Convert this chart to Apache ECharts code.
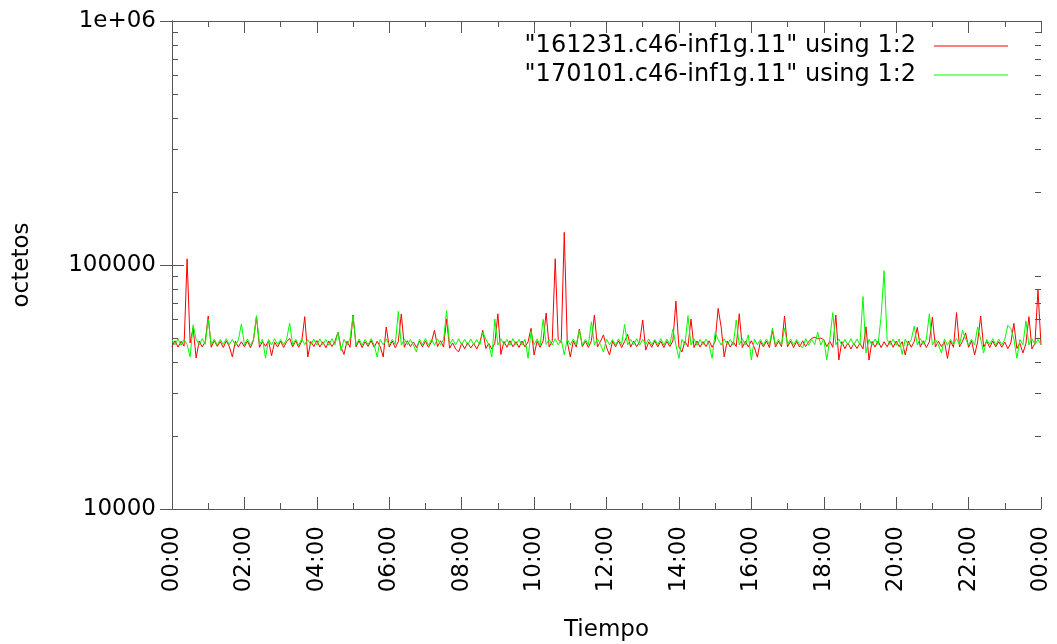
<!DOCTYPE html>
<html>
<head>
<meta charset="utf-8">
<script src="https://cdn.jsdelivr.net/npm/echarts@6/dist/echarts.min.js"></script>
<style>
  html, body { margin: 0; padding: 0; background: #ffffff; }
  #chart { width: 1057px; height: 644px; }
</style>
</head>
<body>
<div id="chart"></div>
<script>
// Sampling step of both traffic files, in minutes (288 samples per day + closing sample)
const STEP_MIN = 5;

const seriesNames = [
  '"161231.c46-inf1g.11" using 1:2',
  '"170101.c46-inf1g.11" using 1:2'
];
const seriesColors = ['#ff0000', '#00ff00'];

// X tick labels, one every two hours
const timeLabels = ['00:00', '02:00', '04:00', '06:00', '08:00', '10:00', '12:00',
                    '14:00', '16:00', '18:00', '20:00', '22:00', '00:00'];

// Log Y axis: decades and the 2..9 minor ticks between them
const yTickValues = [10000, 100000, 1000000];
const yTickLabels = ['10000', '100000', '1e+06'];
const yMinorTicks = [20000, 30000, 40000, 50000, 60000, 70000, 80000, 90000,
                     200000, 300000, 400000, 500000, 600000, 700000, 800000, 900000];

// 161231 — octets per sample, one row per hour
const octets161231 = [
  46300, 48900, 46100, 48700, 46500, 106000, 47900, 55300, 41600, 48800, 46200, 48400,
  61800, 46000, 49000, 46400, 48600, 45900, 48900, 46300, 42000, 48700, 46100, 48500,
  46200, 48800, 45800, 49100, 61400, 46000, 48600, 46400, 48900, 42500, 48300, 46100,
  48800, 45900, 48500, 50000, 46200, 48900, 46000, 48700, 61400, 42000, 48600, 46300,
  49000, 46100, 48400, 45800, 48800, 46300, 48600, 53000, 46100, 43000, 48700, 46000,
  62400, 46200, 48900, 45900, 48500, 46400, 49000, 46000, 48700, 46300, 42000, 55700,
  46100, 48800, 45800, 48600, 63000, 46000, 48900, 46300, 48400, 45900, 48800, 46200,
  48700, 46000, 48500, 54000, 46300, 48900, 46100, 60000, 45600, 47900, 45300, 44000,
  47800, 45400, 48000, 45700, 47600, 45300, 47900, 54000, 45500, 47700, 45200, 47800,
  63100, 43000, 48600, 46000, 48900, 46200, 48500, 45900, 48800, 46100, 48400, 55000,
  42800, 48700, 46000, 48900, 63500, 46200, 48600, 106000, 49500, 48000, 136000, 48500,
  42000, 48800, 46100, 54600, 46300, 48700, 45900, 48900, 62400, 46100, 48600, 51700,
  46000, 42800, 48700, 46200, 48900, 45900, 48500, 52000, 46100, 48800, 46300, 48600,
  59500, 44800, 48400, 46000, 48900, 46200, 48700, 45900, 48600, 46300, 48800, 71100,
  46100, 44000, 48700, 46200, 60000, 45900, 48800, 46100, 48500, 46300, 48900, 46000,
  48600, 66400, 55700, 42000, 48800, 46100, 48500, 46300, 63100, 45900, 48700, 46200,
  48900, 46000, 41900, 48600, 46200, 48800, 45900, 54000, 46100, 48700, 46300, 61800,
  46200, 48800, 45900, 48600, 46100, 48900, 46300, 48500, 50000, 50600, 49800, 50200,
  49400, 46300, 48700, 46000, 62400, 40800, 48500, 45400, 47900, 45300, 47700, 45500,
  47800, 45300, 55800, 40800, 48600, 46100, 48800, 45900, 48500, 46200, 48900, 46000,
  48700, 46300, 48500, 42800, 48800, 46000, 48600, 55500, 46200, 48900, 45900, 48400,
  61100, 46100, 48700, 46300, 48500, 41400, 48800, 46000, 63800, 46200, 48600, 52700,
  46000, 48900, 42800, 48400, 61800, 46100, 48700, 45900, 48800, 46200, 48500, 46000,
  48300, 45400, 47900, 57700, 45500, 47800, 43600, 47600, 61400, 45300, 47700, 79000,
  47000
];

// 170101 — octets per sample, one row per hour
const octets170101 = [
  49400, 47100, 49800, 46900, 49500, 47200, 42000, 56800, 49600, 47000, 49900, 47300,
  60000, 47000, 49700, 46900, 49500, 47200, 49900, 47100, 49600, 46800, 49400, 57300,
  47100, 49800, 46900, 49500, 62000, 47200, 49700, 41500, 49600, 47000, 49900, 47300,
  49500, 47100, 49800, 57800, 47000, 49600, 46900, 49900, 47200, 49400, 47100, 49700,
  47000, 49800, 47200, 49500, 46900, 49900, 47100, 53000, 44600, 49600, 47000, 49800,
  62000, 47100, 49700, 46900, 49500, 47200, 49900, 47000, 42000, 49600, 47100, 49800,
  47000, 49600, 47200, 64500, 46900, 49800, 47100, 49500, 47000, 44000, 49700, 47200,
  49900, 47000, 49600, 46900, 49800, 47100, 49500, 65000, 47200, 49700, 47000, 49900,
  47100, 49600, 46900, 49800, 47200, 49500, 47000, 53000, 49700, 47100, 42000, 60000,
  47000, 49800, 47200, 49600, 46900, 49900, 47100, 49500, 47000, 49700, 41500, 53500,
  47100, 49800, 46900, 59900, 47200, 49600, 47000, 49900, 47100, 49500, 42800, 49700,
  47000, 49800, 47200, 54000, 46900, 49600, 47100, 58500, 47000, 49900, 47200, 44000,
  49700, 47100, 49500, 46900, 49800, 47200, 57100, 47000, 49600, 47100, 49900, 46900,
  49600, 47200, 49800, 47000, 49500, 47100, 49900, 46900, 49700, 47200, 54600, 47000,
  41400, 49600, 47100, 62000, 47000, 49800, 46900, 49500, 47200, 49700, 47100, 41500,
  52700, 49500, 47000, 49800, 47200, 49600, 46900, 59500, 47100, 49900, 47000, 51700,
  40800, 49700, 47100, 49500, 46900, 49800, 47200, 55100, 47000, 49600, 47100, 55000,
  47200, 49800, 47000, 49600, 47100, 45700, 49900, 46900, 49500, 47200, 53000, 47000,
  49700, 40800, 49600, 63800, 47100, 49800, 46900, 49500, 47200, 49900, 47000, 49700,
  47100, 74200, 43600, 49600, 47000, 49800, 47200, 61400, 94800, 49500, 47100, 49700,
  46900, 49800, 43000, 49600, 47100, 49500, 56200, 47000, 49900, 47200, 49700, 63100,
  47000, 49600, 47100, 43600, 49800, 46900, 49500, 47200, 49900, 47000, 54000, 49700,
  47100, 49600, 47000, 55600, 49800, 43600, 49500, 47200, 49900, 46900, 49700, 47100,
  49600, 56600, 55000, 49800, 41500, 49500, 47100, 59000, 47000, 49900, 47200, 49600,
  47100
];

const AXIS_COLOR = '#555555';
const FONT = '"DejaVu Sans", sans-serif';

function toPoints(values) {
  return values.map((v, i) => [i * STEP_MIN, v]);
}

const chart = echarts.init(document.getElementById('chart'), null, { renderer: 'canvas' });

const xCommon = {
  type: 'value',
  min: 0,
  max: 1440,
  interval: 120,
  axisLine: { show: true, lineStyle: { color: AXIS_COLOR, width: 1 } },
  axisTick: { show: true, inside: true, length: 12, lineStyle: { color: AXIS_COLOR } },
  minorTick: { show: true, splitNumber: 2, length: 6, lineStyle: { color: AXIS_COLOR } },
  splitLine: { show: false },
  minorSplitLine: { show: false }
};

const yCommon = {
  type: 'log',
  logBase: 10,
  min: 10000,
  max: 1000000,
  axisLine: { show: true, lineStyle: { color: AXIS_COLOR, width: 1 } },
  axisTick: { show: true, inside: true, length: 12, lineStyle: { color: AXIS_COLOR } },
  splitLine: { show: false }
};

chart.setOption({
  animation: false,
  backgroundColor: '#ffffff',
  textStyle: { fontFamily: FONT },
  grid: { left: 172, right: 16, top: 21, bottom: 135, containLabel: false, outerBoundsMode: 'none' },
  legend: {
    data: seriesNames.map((n, k) => ({ name: n, itemStyle: { color: seriesColors[k] } })),
    orient: 'vertical',
    align: 'right',
    right: 44,
    top: 29,
    itemGap: 5,
    itemWidth: 74,
    itemHeight: 1,
    icon: 'rect',
    textStyle: {
      fontFamily: FONT,
      fontSize: 24,
      color: '#000000',
      lineHeight: 24,
      padding: [0, 13, 0, 0]
    },
    selectedMode: false
  },
  xAxis: [
    Object.assign({}, xCommon, {
      position: 'bottom',
      name: 'Tiempo',
      nameLocation: 'middle',
      nameGap: 110,
      nameTextStyle: { fontFamily: FONT, fontSize: 23, color: '#000000' },
      axisLabel: {
        show: true,
        rotate: 90,
        margin: 17,
        fontFamily: FONT,
        fontSize: 23,
        color: '#000000',
        formatter: (v) => timeLabels[Math.round(v / 120)] ?? ''
      }
    }),
    Object.assign({}, xCommon, {
      position: 'top',
      axisLabel: { show: false }
    })
  ],
  yAxis: [
    Object.assign({}, yCommon, {
      position: 'left',
      name: 'octetos',
      nameLocation: 'middle',
      nameGap: 138,
      nameRotate: 90,
      nameTextStyle: { fontFamily: FONT, fontSize: 23, color: '#000000' },
      axisLabel: {
        show: true,
        margin: 16,
        fontFamily: FONT,
        fontSize: 23,
        color: '#000000',
        formatter: (v) => {
          const k = yTickValues.findIndex(t => Math.abs(t - v) / t < 1e-6);
          return k >= 0 ? yTickLabels[k] : '';
        }
      }
    }),
    Object.assign({}, yCommon, {
      position: 'right',
      axisLabel: { show: false }
    })
  ],
  series: [
    {
      name: seriesNames[0],
      type: 'line',
      data: toPoints(octets161231),
      showSymbol: false,
      symbol: 'none',
      sampling: 'none',
      itemStyle: { color: seriesColors[0] },
      lineStyle: { color: seriesColors[0], width: 1 },
      z: 2
    },
    {
      name: seriesNames[1],
      type: 'line',
      data: toPoints(octets170101),
      showSymbol: false,
      symbol: 'none',
      sampling: 'none',
      itemStyle: { color: seriesColors[1] },
      lineStyle: { color: seriesColors[1], width: 1 },
      z: 3
    },
    {
      // log-scale minor ticks (2..9 of each decade) on the left and right frame
      name: 'yMinorTicks',
      type: 'custom',
      silent: true,
      clip: false,
      data: yMinorTicks.map(v => [0, v]),
      renderItem: (params, api) => {
        const cs = params.coordSys;
        const y = Math.round(api.coord([0, api.value(1)])[1]) + 0.5;
        return {
          type: 'group',
          children: [
            { type: 'line', shape: { x1: cs.x, y1: y, x2: cs.x + 6, y2: y },
              style: { stroke: AXIS_COLOR, lineWidth: 1 } },
            { type: 'line', shape: { x1: cs.x + cs.width - 6, y1: y, x2: cs.x + cs.width, y2: y },
              style: { stroke: AXIS_COLOR, lineWidth: 1 } }
          ]
        };
      },
      z: 5
    }
  ]
});
</script>
</body>
</html>
